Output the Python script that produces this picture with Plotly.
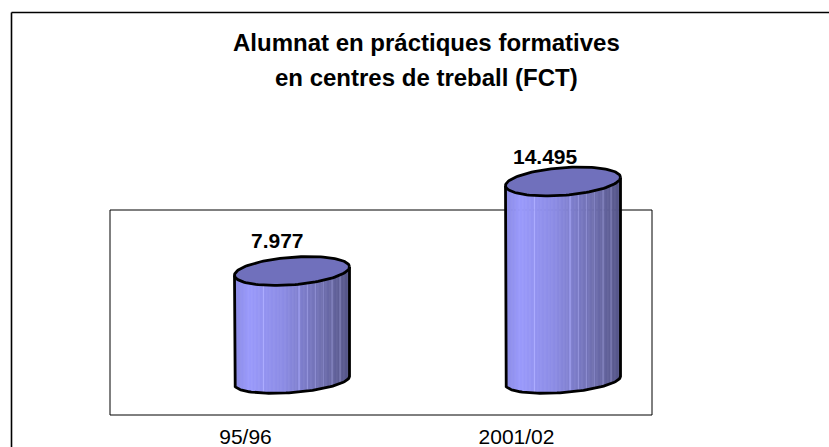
import numpy as np
import plotly.graph_objects as go

categories = ["95/96", "2001/02"]
values = [7977, 14495]
value_labels = ["7.977", "14.495"]
title_lines = ["Alumnat en pr\u00e1ctiques formatives", "en centres de treball (FCT)"]

W, H = 829, 447
L, R, T, B = 110, 652, 210, 415   # reference box in pixels
TOP = 100                         # top of the drawing area, above the tallest cylinder
PX = 72.8              # value units per pixel
Y0 = 380.6             # pixel of value 0
y_range = [(Y0 - B) * PX, (Y0 - TOP) * PX]
x_range = [-0.5, 1.5]
U = (x_range[1] - x_range[0]) / (R - L)   # x units per pixel
off = 46.5 * U         # 3D depth shift of the cylinders
a = 57.5 * U           # half width
bt, bb, tilt = 13.8 * PX, 12.0 * PX, 4.2 * PX
FONT = "Liberation Sans, Arial, sans-serif"

stops = [(0, (136, 136, 226)), (0.13, (154, 154, 252)), (0.45, (138, 138, 226)),
         (0.75, (112, 112, 178)), (1, (84, 84, 134))]
light = {21, 47, 53, 59, 65, 71, 77}

def shade(f, i):
    xs = [s[0] for s in stops]
    c = [np.interp(f, xs, [s[1][k] for s in stops]) for k in range(3)]
    if i in light:
        c = [min(255, v + 22) for v in c]
    return "rgb(%d,%d,%d)" % tuple(c)

def fx(px):
    return (px - L) / (R - L)

def fy(px):
    return (B - px) / (B - TOP)

fig = go.Figure()
n = 84
for k, v in enumerate(values):
    cx = k + off
    edges = np.linspace(-1, 1, n + 1)
    u = (edges[:-1] + edges[1:]) / 2
    fig.add_trace(go.Bar(
        x=cx + a * u, width=2 * a / n * 1.02,
        base=tilt * u - bb * np.sqrt(1 - u ** 2),
        y=v + bb * np.sqrt(1 - u ** 2),
        marker=dict(color=[shade((e + 1) / 2, i) for i, e in enumerate(u)], line_width=0, opacity=0.97),
        cliponaxis=False, showlegend=False, hoverinfo="skip"))
    t = np.linspace(0, 2 * np.pi, 121)
    tb = np.linspace(np.pi, 0, 61)
    ox = np.concatenate([[cx - a], cx + a * np.cos(tb), [cx + a]])
    oy = np.concatenate([[v - tilt], tilt * np.cos(tb) - bb * np.sin(tb), [v + tilt]])
    fig.add_trace(go.Scatter(x=ox, y=oy, mode="lines", line=dict(color="#000", width=2.8),
                             cliponaxis=False, showlegend=False, hoverinfo="skip"))
    fig.add_trace(go.Scatter(x=cx + a * np.cos(t), y=v + tilt * np.cos(t) + bt * np.sin(t),
                             mode="lines", fill="toself", fillcolor="#7070BC",
                             line=dict(color="#000", width=2.8),
                             cliponaxis=False, showlegend=False, hoverinfo="skip"))

fig.update_layout(
    width=W, height=H, margin=dict(l=L, r=W - R, t=TOP, b=H - B),
    paper_bgcolor="white", plot_bgcolor="rgba(0,0,0,0)", barmode="overlay",
    font=dict(family=FONT, color="#000", size=21),
    xaxis=dict(range=x_range, tickvals=[0, 1], ticktext=categories, showgrid=False, zeroline=False,
               showline=False, ticks="", tickfont=dict(size=21), automargin=False, ticklabelstandoff=7),
    yaxis=dict(range=y_range, showticklabels=False, showgrid=False, zeroline=False,
               showline=False, ticks="", automargin=False),
    annotations=[
        dict(xref="x", yref="y", x=k + d * U, y=v, yshift=s, text=lab, showarrow=False, yanchor="middle",
             font=dict(size=21, color="#000", family=FONT, weight="bold"))
        for k, (v, lab, s, d) in enumerate(zip(values, value_labels, [31, 25], [32, 29]))
    ] + [
        dict(xref="paper", yref="paper", x=fx(426.5), y=fy(yc), text=line, showarrow=False, yanchor="middle",
             font=dict(size=24, color="#000", family=FONT, weight="bold"))
        for line, yc in zip(title_lines, [43, 77])
    ],
    shapes=[
        dict(type="rect", layer="below", xref="paper", yref="paper", x0=fx(L), x1=fx(R), y0=fy(B), y1=fy(T),
             line=dict(color="#000", width=1)),
        dict(type="line", xref="paper", yref="paper", x0=fx(11.5), x1=fx(W + 5),
             y0=fy(12.5), y1=fy(12.5), line=dict(color="#000", width=1.6)),
        dict(type="line", xref="paper", yref="paper", x0=fx(11.5), x1=fx(11.5),
             y0=fy(12.5), y1=fy(H + 5), line=dict(color="#000", width=1.6)),
    ],
)
fig.write_html("out.html", config={"displayModeBar": False},
               post_script="document.body.style.margin='0';document.body.style.overflow='hidden';")
